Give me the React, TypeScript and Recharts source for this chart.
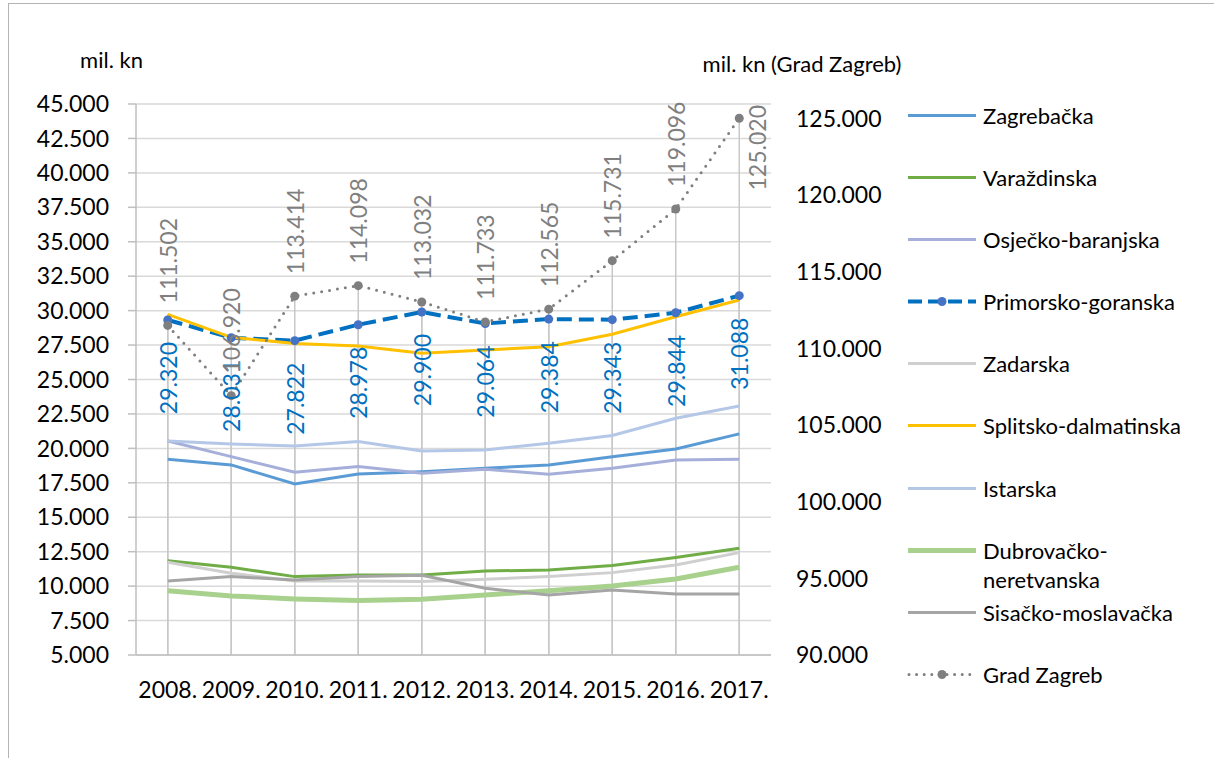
import { CartesianGrid, LabelList, Legend, Line, LineChart, ReferenceLine, XAxis, YAxis } from 'recharts';

const years = ['2008.', '2009.', '2010.', '2011.', '2012.', '2013.', '2014.', '2015.', '2016.', '2017.'];

const zagrebacka = [19210, 18800, 17420, 18140, 18310, 18560, 18800, 19400, 19960, 21050];
const varazdinska = [11850, 11370, 10690, 10810, 10810, 11100, 11170, 11490, 12070, 12750];
const osjecko = [20540, 19400, 18270, 18680, 18190, 18480, 18120, 18560, 19160, 19210];
const primorsko = [29320, 28031, 27822, 28978, 29900, 29064, 29384, 29343, 29844, 31088];
const zadarska = [11730, 10930, 10380, 10380, 10330, 10500, 10690, 10980, 11540, 12430];
const splitsko = [29730, 28060, 27620, 27430, 26900, 27140, 27380, 28280, 29560, 30770];
const istarska = [20540, 20320, 20180, 20490, 19810, 19890, 20370, 20930, 22190, 23080];
const dubrovacko = [9670, 9290, 9070, 8950, 9050, 9360, 9670, 10010, 10520, 11370];
const sisacko = [10380, 10690, 10450, 10690, 10790, 9840, 9360, 9720, 9430, 9430];
const gradZagreb = [111502, 106920, 113414, 114098, 113032, 111733, 112565, 115731, 119096, 125020];

const leftTicks = [5000, 7500, 10000, 12500, 15000, 17500, 20000, 22500, 25000, 27500, 30000, 32500, 35000, 37500, 40000, 42500, 45000];
const rightTicks = [90000, 95000, 100000, 105000, 110000, 115000, 120000, 125000];

const leftSeries = { zagrebacka, varazdinska, osjecko, primorsko, zadarska, splitsko, istarska, dubrovacko, sisacko };

const data = years.map((year, i) => ({
  year,
  zagrebacka: zagrebacka[i],
  varazdinska: varazdinska[i],
  osjecko: osjecko[i],
  primorsko: primorsko[i],
  zadarska: zadarska[i],
  splitsko: splitsko[i],
  istarska: istarska[i],
  dubrovacko: dubrovacko[i],
  sisacko: sisacko[i],
  gradZagreb: gradZagreb[i],
}));

// drop lines go up to the highest point of each axis group
const leftMax = years.map((_, i) => Math.max(...Object.values(leftSeries).map((s) => s[i])));

interface SeriesDef {
  key: string;
  name: string;
  color: string;
  width: number;
  dash?: string;
  dotColor?: string;
  axis: 'left' | 'right';
}

const series: SeriesDef[] = [
  { key: 'zagrebacka', name: 'Zagrebačka', color: '#5B9BD5', width: 3, axis: 'left' },
  { key: 'varazdinska', name: 'Varaždinska', color: '#70AD47', width: 3, axis: 'left' },
  { key: 'osjecko', name: 'Osječko-baranjska', color: '#A5AFD9', width: 3, axis: 'left' },
  { key: 'primorsko', name: 'Primorsko-goranska', color: '#0070C0', width: 4, dash: '15 7', dotColor: '#4472C4', axis: 'left' },
  { key: 'zadarska', name: 'Zadarska', color: '#CFCFCF', width: 3, axis: 'left' },
  { key: 'splitsko', name: 'Splitsko-dalmatinska', color: '#FFC000', width: 3, axis: 'left' },
  { key: 'istarska', name: 'Istarska', color: '#B4C7E7', width: 3, axis: 'left' },
  { key: 'dubrovacko', name: 'Dubrovačko-neretvanska', color: '#A9D18E', width: 5, axis: 'left' },
  { key: 'sisacko', name: 'Sisačko-moslavačka', color: '#A5A5A5', width: 3, axis: 'left' },
  { key: 'gradZagreb', name: 'Grad Zagreb', color: '#7F7F7F', width: 3, dash: '0 8', dotColor: '#7F7F7F', axis: 'right' },
];

const W = 1214;
const H = 758;
const PLOT_LEFT = 136;
const PLOT_TOP = 104;
const PLOT_RIGHT = 771;
const RIGHT_AXIS_W = 120;
const HALF_BAND = (PLOT_RIGHT - PLOT_LEFT) / years.length / 2;
const FONT = 'Lato, "Noto Sans", sans-serif';

const fmt = (v: number) => String(v).replace(/\B(?=(\d{3})+(?!\d))/g, '.');

const renderZagrebLabel = (props: any) => {
  const x = props.x ?? props.viewBox?.x;
  const y = props.y ?? props.viewBox?.y;
  const last = props.index === years.length - 1;
  const tx = last ? x + 18 : x;
  const ty = last ? PLOT_TOP + 1 : y - 22;
  return (
    <text
      x={tx}
      y={ty}
      transform={`rotate(-90 ${tx} ${ty})`}
      textAnchor={last ? 'end' : 'start'}
      dominantBaseline="central"
      fill="#7F7F7F"
      fontSize={23}
      fontFamily={FONT}
    >
      {fmt(props.value)}
    </text>
  );
};

const renderPrimorskoLabel = (props: any) => {
  const x = props.x ?? props.viewBox?.x;
  const y = props.y ?? props.viewBox?.y;
  const ty = y + 22;
  return (
    <text
      x={x}
      y={ty}
      transform={`rotate(-90 ${x} ${ty})`}
      textAnchor="end"
      dominantBaseline="central"
      fill="#0070C0"
      fontSize={23}
      fontFamily={FONT}
    >
      {fmt(props.value)}
    </text>
  );
};

const renderLegend = () => (
  <div style={{ fontFamily: FONT, fontSize: 22, lineHeight: '29px', color: '#000' }}>
    {series.map((s) => (
      <div key={s.key} style={{ display: 'flex', alignItems: 'flex-start', height: 62.2 }}>
        <svg width={70} height={29} style={{ flex: 'none' }}>
          <line
            x1={s.dash === '0 8' ? 2 : 1}
            x2={69}
            y1={14.5}
            y2={14.5}
            stroke={s.color}
            strokeWidth={s.width}
            strokeDasharray={s.dash === '0 8' ? '0 7.6' : s.dash ? '14 6' : undefined}
            strokeLinecap={s.dash === '0 8' ? 'round' : 'butt'}
          />
          {s.dotColor ? <circle cx={35} cy={14.5} r={4.5} fill={s.dotColor} /> : null}
        </svg>
        <div style={{ marginLeft: 6, width: 222 }}>{s.name}</div>
      </div>
    ))}
  </div>
);

export default function App() {
  return (
    <div style={{ position: 'absolute', left: 0, top: 0, width: W, height: H, background: '#fff', fontFamily: FONT }}>
      <div
        style={{
          position: 'absolute',
          left: 8,
          top: 3,
          width: W - 8,
          height: H - 3,
          boxSizing: 'border-box',
          borderLeft: '1px solid #b4b4b4',
          borderTop: '1px solid #b4b4b4',
        }}
      />
      <div style={{ position: 'absolute', left: 0, top: 0 }}>
        <LineChart
          width={W}
          height={H}
          data={data}
          margin={{ top: PLOT_TOP, right: W - PLOT_RIGHT - RIGHT_AXIS_W, bottom: 0, left: 0 }}
        >
          <CartesianGrid yAxisId="left" vertical={false} stroke="#D9D9D9" strokeWidth={1.5} />
          <XAxis
            dataKey="year"
            height={103}
            padding={{ left: HALF_BAND, right: HALF_BAND }}
            tickLine={false}
            tickSize={0}
            tickMargin={27}
            axisLine={{ stroke: '#BFBFBF', strokeWidth: 1.5 }}
            tick={{ fill: '#000', fontSize: 23, fontFamily: FONT }}
            interval={0}
          />
          <YAxis
            yAxisId="left"
            width={PLOT_LEFT}
            domain={[leftTicks[0], leftTicks[leftTicks.length - 1]]}
            ticks={leftTicks}
            interval={0}
            tickFormatter={fmt}
            tickSize={8}
            tickMargin={19}
            axisLine={{ stroke: '#BFBFBF', strokeWidth: 1.5 }}
            tickLine={{ stroke: '#BFBFBF', strokeWidth: 1.5 }}
            tick={{ fill: '#000', fontSize: 23, fontFamily: FONT }}
          />
          <YAxis
            yAxisId="right"
            orientation="right"
            width={RIGHT_AXIS_W}
            domain={[90000, 125950]}
            ticks={rightTicks}
            interval={0}
            tickFormatter={fmt}
            axisLine={false}
            tickLine={false}
            tickSize={6}
            tickMargin={19}
            tick={{ fill: '#000', fontSize: 23, fontFamily: FONT, textAnchor: 'start' }}
          />
          {years.map((year, i) => (
            <ReferenceLine
              key={`dl-left-${year}`}
              yAxisId="left"
              segment={[
                { x: year, y: leftTicks[0] },
                { x: year, y: leftMax[i] },
              ]}
              stroke="#C8C8C8"
              strokeWidth={1.5}
              ifOverflow="visible"
            />
          ))}
          {years.map((year, i) => (
            <ReferenceLine
              key={`dl-right-${year}`}
              yAxisId="right"
              segment={[
                { x: year, y: rightTicks[0] },
                { x: year, y: gradZagreb[i] },
              ]}
              stroke="#C8C8C8"
              strokeWidth={1.5}
              ifOverflow="visible"
            />
          ))}
          <Legend
            layout="vertical"
            align="center"
            verticalAlign="middle"
            wrapperStyle={{ left: 907, top: 100.5, width: 300 }}
            content={renderLegend}
          />
          {series.map((s) => (
            <Line
              key={s.key}
              yAxisId={s.axis}
              dataKey={s.key}
              name={s.name}
              type="linear"
              stroke={s.color}
              strokeWidth={s.width}
              strokeDasharray={s.dash}
              strokeLinecap={s.dash === '0 8' ? 'round' : 'butt'}
              dot={s.dotColor ? { r: 4.5, fill: s.dotColor, stroke: 'none', strokeDasharray: '0' } : false}
              activeDot={false}
              isAnimationActive={false}
            />
          ))}
          <Line yAxisId="left" dataKey="primorsko" stroke="none" dot={false} activeDot={false} legendType="none" isAnimationActive={false}>
            <LabelList dataKey="primorsko" content={renderPrimorskoLabel} />
          </Line>
          <Line yAxisId="right" dataKey="gradZagreb" stroke="none" dot={false} activeDot={false} legendType="none" isAnimationActive={false}>
            <LabelList dataKey="gradZagreb" content={renderZagrebLabel} />
          </Line>
        </LineChart>
      </div>
      <svg width={W} height={H} style={{ position: 'absolute', left: 0, top: 0, pointerEvents: 'none' }}>
        <text x={111.5} y={68} textAnchor="middle" fontSize={22} fontFamily={FONT} fill="#000">
          mil. kn
        </text>
        <text x={802} y={72} textAnchor="middle" fontSize={22} fontFamily={FONT} fill="#000">
          mil. kn (Grad Zagreb)
        </text>
      </svg>
    </div>
  );
}
